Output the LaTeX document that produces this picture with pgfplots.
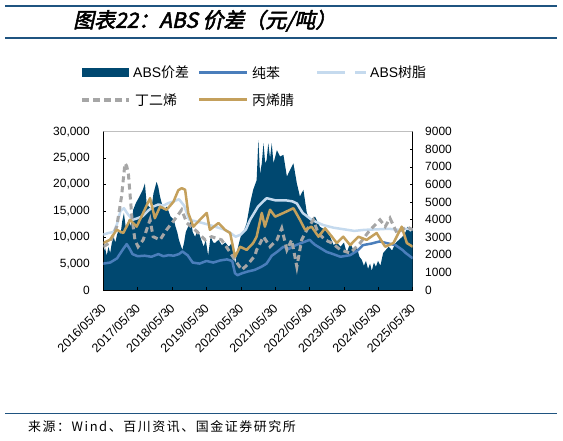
\documentclass[border=0pt]{standalone}
\usepackage{pgfplots}
\pgfplotsset{compat=1.18}
\usepackage{fontspec}
\setmainfont{Liberation Sans}
\newfontfamily\cjk{Noto Sans CJK SC}
\newfontfamily\cjktitle{Noto Sans CJK SC}[FakeSlant=0.22,FakeBold=2.5]
\newfontfamily\cjksrc{Noto Sans CJK SC}[LetterSpace=12]

\definecolor{absc}{RGB}{0,72,112}
\definecolor{benzc}{RGB}{74,126,187}
\definecolor{resinc}{RGB}{197,218,238}
\definecolor{butc}{RGB}{166,166,166}
\definecolor{acrc}{RGB}{196,160,92}
\definecolor{hdr}{RGB}{31,84,128}

\pgfplotsset{base/.style={scale only axis, width=309.4bp, height=158.3bp,
  at={(103.3bp,151bp)}, anchor=south west, xmin=0, xmax=9,
  tick align=inside, major tick length=3bp,
  tick style={black, line width=0.6pt},
  axis line style={black, line width=0.8pt},
  ticklabel style={font=\fontsize{12}{12}\selectfont},
  scaled y ticks=false,
  /pgf/number format/assume math mode=true}}

\begin{document}
\begin{tikzpicture}[x=1bp,y=1bp]
\path[use as bounding box] (0,0) rectangle (563,441);

% header
\draw[hdr, line width=1.2bp] (5,435) -- (557,435);
\draw[hdr, line width=2bp] (5,403.3) -- (557,403.3);
\node[anchor=west, inner sep=0] at (73,420.3) {\cjktitle\fontsize{21}{21}\selectfont 图表22：ABS 价差（元/吨）};

% legend
\fill[absc] (82,363.7) rectangle (129,373);
\node[anchor=west, inner sep=0] at (133,368.3) {\fontsize{14}{14}\selectfont ABS{\cjk 价差}};
\draw[benzc, line width=3bp] (199,368.3) -- (247,368.3);
\node[anchor=west, inner sep=0] at (252,368.3) {\fontsize{14}{14}\selectfont\cjk 纯苯};
\draw[resinc, line width=3bp] (317,368.3) -- (345,368.3) (355,368.3) -- (366,368.3);
\node[anchor=west, inner sep=0] at (370,368.3) {\fontsize{14}{14}\selectfont ABS{\cjk 树脂}};
\draw[butc, line width=3.5bp, dash pattern=on 7bp off 4bp] (82,341) -- (129,341);
\node[anchor=west, inner sep=0] at (135,341) {\fontsize{14}{14}\selectfont\cjk 丁二烯};
\draw[acrc, line width=3bp] (199,341) -- (247,341);
\node[anchor=west, inner sep=0] at (252,341) {\fontsize{14}{14}\selectfont\cjk 丙烯腈};

% ABS spread, right axis
\begin{axis}[base, ymin=0, ymax=9000, axis y line*=right, axis x line=none,
  ytick={0,1000,...,9000},
  yticklabel style={/pgf/number format/1000 sep={}, xshift=9bp}]
\addplot[fill=absc, draw=none] coordinates {
(0.00,2100) (0.05,2400) (0.10,1950) (0.15,2460) (0.20,2100) (0.25,2700)
(0.30,3030) (0.35,2700) (0.40,3150) (0.45,3420) (0.50,3150) (0.55,3900)
(0.60,4380) (0.65,3600) (0.70,3750) (0.75,4050) (0.80,3600) (0.87,4560)
(0.95,4950) (1.05,5310) (1.15,5700) (1.21,6060) (1.26,4920) (1.33,4740)
(1.40,4650) (1.46,5490) (1.55,6150) (1.60,5850) (1.65,5310) (1.75,4560)
(1.85,4740) (1.95,4200) (2.05,3990) (2.10,3600) (2.15,3300) (2.20,2850)
(2.25,2550) (2.30,2280) (2.35,2700) (2.40,3300) (2.47,3600) (2.55,3990)
(2.60,3300) (2.67,3030) (2.75,3420) (2.85,2850) (2.92,2460) (2.98,2850)
(3.05,1950) (3.12,3030) (3.20,2700) (3.25,2670) (3.35,2850) (3.45,2550)
(3.55,2700) (3.65,2460) (3.74,2670) (3.80,1800) (3.84,1500) (3.90,2280)
(3.97,2850) (4.03,3240) (4.10,3420) (4.17,3810) (4.27,4920) (4.36,5700)
(4.46,6240) (4.51,8520) (4.56,6600) (4.61,7200) (4.66,8340) (4.71,7200)
(4.75,7380) (4.80,8340) (4.85,7500) (4.90,8340) (4.95,7200) (5.05,7950)
(5.14,7590) (5.24,7680) (5.34,6450) (5.43,6810) (5.53,7200) (5.63,6060)
(5.72,5310) (5.82,5700) (5.92,4380) (6.01,3990) (6.16,4170) (6.30,3600)
(6.45,3420) (6.60,3030) (6.70,2550) (6.80,2700) (6.90,2460) (7.00,2700)
(7.08,2100) (7.18,2670) (7.28,2250) (7.37,2460) (7.45,1890) (7.52,1710)
(7.58,1380) (7.64,1650) (7.70,1200) (7.76,1500) (7.81,1080) (7.87,1560)
(7.93,1320) (7.99,1650) (8.06,1380) (8.14,2100) (8.22,2280) (8.30,2460)
(8.40,2250) (8.50,2670) (8.60,2850) (8.70,3030) (8.78,3240) (8.85,3600)
(8.92,3300) (9.00,3420)
} \closedcycle;
\end{axis}

% prices, left axis
\begin{axis}[base, ymin=0, ymax=30000, axis y line*=left, axis x line*=bottom,
  ytick={0,5000,...,30000},
  yticklabel style={/pgf/number format/1000 sep={,}, xshift=-10bp},
  xtick={0,...,9},
  xticklabels={2016/05/30,2017/05/30,2018/05/30,2019/05/30,2020/05/30,2021/05/30,2022/05/30,2023/05/30,2024/05/30,2025/05/30},
  xticklabel style={font=\fontsize{12.5}{12.5}\selectfont, xshift=-3bp, yshift=-7.8bp, rotate=45, anchor=north east}]
\draw[black!25, line width=0.6pt] (rel axis cs:0,1) -- (rel axis cs:1,1);
% 纯苯
\addplot[benzc, line width=2.5bp, line join=round] coordinates {
(0,5000) (0.2,5200) (0.4,6000) (0.55,7500) (0.68,8700) (0.75,8000) (0.85,6800)
(1.0,6400) (1.2,6500) (1.4,6300) (1.6,6800) (1.75,6400) (1.9,6600) (2.05,6500)
(2.2,6800) (2.3,7300) (2.45,6600) (2.6,5200) (2.8,5000) (3.0,5500) (3.2,5200)
(3.4,5600) (3.6,5800) (3.75,5500) (3.83,3200) (3.9,2800) (4.05,3200) (4.2,3500)
(4.4,3800) (4.6,4400) (4.75,5000) (4.9,6500) (5.05,7200) (5.24,8200) (5.4,7800)
(5.6,8500) (5.8,9000) (6.0,9500) (6.15,8600) (6.3,8000) (6.5,7200) (6.6,7000)
(6.9,6300) (7.18,6600) (7.4,7500) (7.55,8500) (7.8,8800) (8.04,9200) (8.3,8800)
(8.5,8500) (8.7,7600) (8.8,7000) (9.0,6000)
};
% ABS树脂
\addplot[resinc, line width=2.5bp, line join=round] coordinates {
(0,10500) (0.15,10800) (0.3,11000) (0.4,12500) (0.5,15000) (0.6,15500) (0.7,14500)
(0.85,13300) (1.0,13600) (1.15,14000) (1.3,15000) (1.45,15800) (1.6,16200)
(1.75,16000) (1.9,16500) (2.05,16800) (2.2,17200) (2.35,16000) (2.5,13300)
(2.7,13000) (3.0,12500) (3.25,12000) (3.5,11500) (3.7,10800) (3.85,10100)
(4.0,10500) (4.15,11500) (4.27,13300) (4.5,15800) (4.75,17400) (5.0,17000)
(5.3,17000) (5.5,16800) (5.63,16400) (5.8,14600) (6.06,13300) (6.4,12300)
(6.7,11800) (7.0,11500) (7.3,11200) (7.6,11400) (8.0,11500) (8.3,11600)
(8.6,11400) (8.8,11600) (9.0,11500)
};
% 丁二烯
\addplot[butc, line width=3bp, dash pattern=on 6bp off 4bp] coordinates {
(0,8200) (0.2,9000) (0.39,12000) (0.53,17700) (0.63,24000) (0.68,23500) (0.73,22000)
(0.83,13900) (0.92,9500) (1.01,8200) (1.16,9500) (1.36,13300) (1.45,10100)
(1.65,9500) (1.84,11400) (2.14,13900) (2.28,15200) (2.43,12700) (2.67,11400)
(2.96,9500) (3.15,10100) (3.44,9500) (3.64,7600) (3.83,5700) (4.03,3800)
(4.22,5000) (4.41,6500) (4.46,7600) (4.66,10100) (4.85,8200) (5.05,9500)
(5.19,11700) (5.34,7600) (5.48,9500) (5.63,4400) (5.77,9500) (5.92,11400)
(6.11,13300) (6.25,10800) (6.45,9500) (6.65,8900) (6.9,7600) (7.18,7000)
(7.47,8900) (7.76,11400) (8.05,13300) (8.2,12000) (8.34,13600) (8.54,10800)
(8.83,12000) (9.0,11400)
};
% 丙烯腈
\addplot[acrc, line width=2.5bp, line join=round] coordinates {
(0,8900) (0.19,9500) (0.39,11400) (0.58,10800) (0.78,13300) (0.97,12000)
(1.16,14600) (1.36,17400) (1.5,13600) (1.65,15800) (1.84,15200) (2.04,16700)
(2.18,18900) (2.28,19300) (2.38,19000) (2.47,14600) (2.62,12000) (2.81,13300)
(3.01,14600) (3.1,11400) (3.35,12700) (3.54,11400) (3.69,10800) (3.83,6300)
(3.98,8200) (4.17,7600) (4.36,8900) (4.46,10100) (4.61,14600) (4.7,12000)
(4.85,15200) (5.0,13900) (5.24,14600) (5.53,15500) (5.72,13300) (5.87,11400)
(6.06,12000) (6.26,10100) (6.45,11700) (6.65,10100) (6.79,8900) (6.98,10100)
(7.18,8500) (7.42,10100) (7.66,9500) (7.95,10800) (8.2,8200) (8.44,8900)
(8.68,12000) (8.83,8900) (9.0,8200)
};
\end{axis}

% source
\draw[hdr, line width=0.8bp] (5,28) -- (557,28);
\node[anchor=west, inner sep=0] at (28,14.3) {\cjksrc\fontsize{13}{13}\selectfont 来源：Wind、百川资讯、国金证券研究所};
\end{tikzpicture}
\end{document}
